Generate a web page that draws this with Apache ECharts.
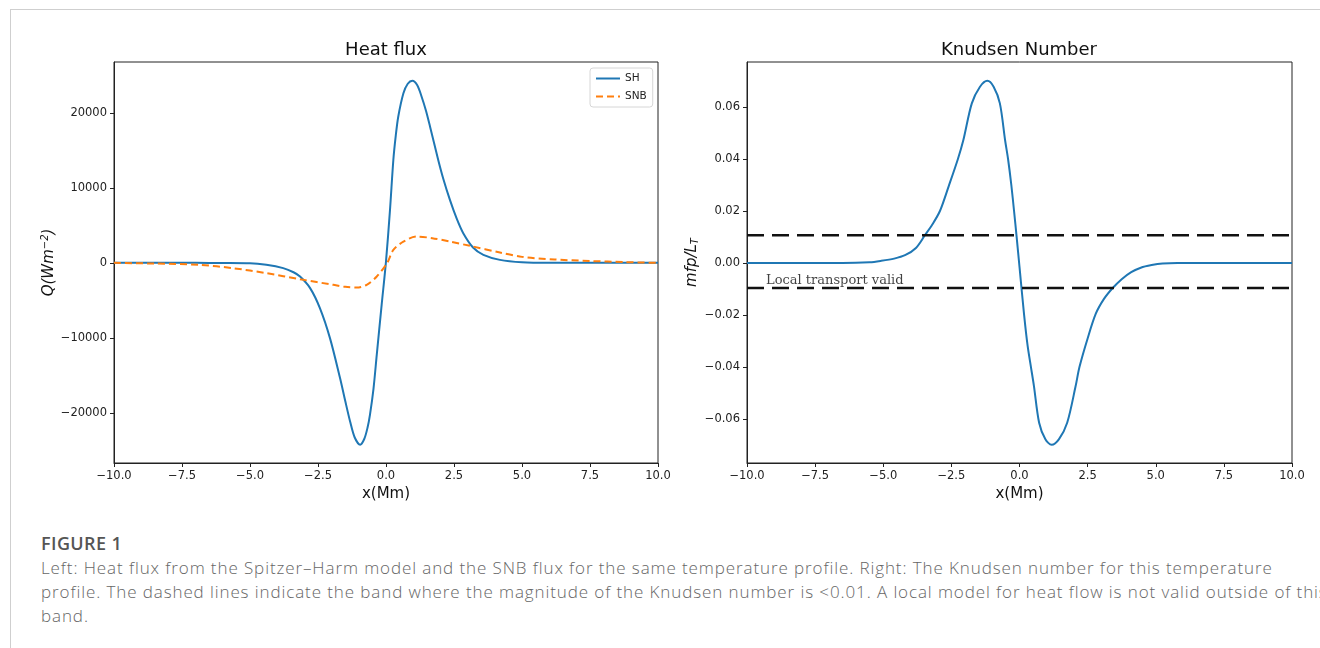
<!DOCTYPE html>
<html>
<head>
<meta charset="utf-8">
<script src="https://cdn.jsdelivr.net/npm/echarts@6/dist/echarts.min.js"></script>
<style>
  html, body { margin: 0; padding: 0; background: #fff; }
  body { width: 1320px; height: 648px; position: relative; overflow: hidden; }
  .frame {
    position: absolute; left: 10px; top: 9px; width: 1340px; height: 680px;
    border: 1px solid #cfcfcf; box-sizing: border-box;
  }
  #chart { position: absolute; left: 0; top: 0; width: 1320px; height: 520px; }
  .caption {
    position: absolute; left: 41px; top: 531px; white-space: nowrap;
    font-family: "Open Sans", Lato, sans-serif; font-size: 17px; font-weight: 300;
    letter-spacing: 0.9px; line-height: 24px; color: #666;
  }
  .caption b { font-weight: 600; font-size: 18px; letter-spacing: 0.4px; color: #555; }
</style>
</head>
<body>
<div class="frame"></div>
<div id="chart"></div>
<div class="caption">
  <b>FIGURE 1</b><br>
  Left: Heat flux from the Spitzer–Harm model and the SNB flux for the same temperature profile. Right: The Knudsen number for this temperature<br>
  profile. The dashed lines indicate the band where the magnitude of the Knudsen number is &lt;0.01. A local model for heat flow is not valid outside of this<br>
  band.
</div>
<script>
// heat flux, Spitzer-Harm (W m^-2)
const shX = [-10, -7, -6, -5, -4.4, -3.78, -3.4, -3.16, -2.79, -2.43, -2.06, -1.69, -1.5, -1.32, -1.15, -0.95, -0.8, -0.68, -0.59, -0.46, -0.34, -0.16, 0.0, 0.147, 0.27, 0.36, 0.45, 0.64, 0.8, 0.97, 1.15, 1.31, 1.47, 1.62, 1.92, 2.1, 2.35, 2.6, 2.84, 3.2, 3.58, 4.19, 5.0, 6.0, 10];
const shQ = [0, 0, -10, -40, -250, -700, -1250, -1830, -3370, -6040, -10040, -15370, -18400, -21160, -23300, -24250, -23500, -22000, -20270, -16800, -12270, -5600, 200, 7070, 13730, 17000, 19500, 22630, 23900, 24300, 23700, 22170, 20300, 18170, 13730, 11300, 8400, 5900, 3960, 2050, 1070, 400, 80, 5, 0];
// heat flux, SNB
const snbX = [-10, -8.5, -6.84, -5.62, -4.39, -3.16, -1.94, -1.5, -1.08, -0.71, -0.34, 0.04, 0.27, 0.64, 1.13, 1.7, 2.35, 3.09, 4.19, 5.0, 6.2, 7.5, 8.8, 10];
const snbQ = [0, -90, -270, -710, -1380, -2180, -2930, -3200, -3290, -2930, -1820, -40, 1730, 2840, 3510, 3300, 2840, 2270, 1380, 800, 450, 250, 100, 0];
// Knudsen number mfp/L_T
const knX = [-10, -6.5, -5.5, -5.1, -4.6, -4.2, -3.8, -3.47, -3.2, -2.92, -2.6, -2.26, -2.06, -1.75, -1.45, -1.18, -0.95, -0.72, -0.53, -0.42, -0.3, -0.2, -0.1, 0, 0.17, 0.3, 0.42, 0.53, 0.72, 0.95, 1.18, 1.45, 1.75, 2.06, 2.2, 2.5, 2.8, 3.1, 3.42, 3.75, 4.1, 4.45, 4.85, 5.25, 5.8, 10];
const knY = [0, 0, 0.0003, 0.0008, 0.0017, 0.003, 0.0058, 0.0107, 0.0148, 0.02, 0.0295, 0.04, 0.0473, 0.0614, 0.0678, 0.0701, 0.0678, 0.0614, 0.0473, 0.04, 0.03, 0.02, 0.0095, -0.0015, -0.02, -0.032, -0.04, -0.0473, -0.0614, -0.0678, -0.0699, -0.0677, -0.0614, -0.0473, -0.04, -0.029, -0.0195, -0.0138, -0.0096, -0.0062, -0.0035, -0.0018, -0.0008, -0.0002, 0, 0];
// validity band
const bandX = [-10, 10];
const bandUpper = [0.0107, 0.0107];
const bandLower = [-0.0096, -0.0096];
const noteAt = [-9.3, -0.0068];
const noteText = "Local transport valid";

const xTicks = [-10, -7.5, -5, -2.5, 0, 2.5, 5, 7.5, 10];
const qTicks = [-20000, -10000, 0, 10000, 20000];
const knTicks = [-0.06, -0.04, -0.02, 0, 0.02, 0.04, 0.06];

const zip = (a, b) => a.map((v, i) => [v, b[i]]);
const minus = s => s.replace("-", "\u2212");

const font = "DejaVu Sans";
const axisColor = "#222";

function xAxisOpt(grid) {
  return {
    type: "value", gridIndex: grid, min: -10, max: 10,
    name: "x(Mm)", nameLocation: "middle", nameGap: 24,
    nameTextStyle: { fontFamily: font, fontSize: 15, color: "#111" },
    axisLine: { show: true, onZero: false, lineStyle: { color: axisColor, width: 1 } },
    axisTick: { show: true, length: 4, lineStyle: { color: axisColor }, customValues: xTicks },
    axisLabel: { fontFamily: font, fontSize: 11.5, color: "#222", margin: 7,
      customValues: xTicks, formatter: v => minus(v.toFixed(1)) },
    splitLine: { show: false }
  };
}

const lineSeries = { type: "line", symbol: "none", showSymbol: false, smooth: 0.3 };

const chart = echarts.init(document.getElementById("chart"));
chart.setOption({
  animation: false,
  backgroundColor: "transparent",
  graphic: [
    { type: "text", x: 386, y: 50, style: { text: "Heat flux", font: "18px DejaVu Sans", fill: "#111", textAlign: "center", textVerticalAlign: "middle" } },
    { type: "text", x: 1019, y: 50, style: { text: "Knudsen Number", font: "18px DejaVu Sans", fill: "#111", textAlign: "center", textVerticalAlign: "middle" } }
  ],
  legend: {
    orient: "vertical", left: 590, top: 68,
    padding: [5, 6, 5, 5], itemGap: 7, itemWidth: 24, itemHeight: 10,
    borderColor: "#d6d6d6", borderWidth: 1, borderRadius: 3,
    itemStyle: { opacity: 0 },
    textStyle: { fontFamily: font, fontSize: 10.5, color: "#222" },
    data: ["SH", "SNB"]
  },
  grid: [
    { left: 114, top: 62, width: 544, height: 401, show: true, borderColor: axisColor, borderWidth: 1 },
    { left: 747, top: 62, width: 545, height: 401, show: true, borderColor: axisColor, borderWidth: 1 }
  ],
  xAxis: [xAxisOpt(0), xAxisOpt(1)],
  yAxis: [
    {
      type: "value", gridIndex: 0, min: -26700, max: 26800,
      name: "{a|Q(Wm}{s|\u22122}{a|)}", nameLocation: "middle", nameGap: 54, nameRotate: 90,
      nameTextStyle: { rich: {
        a: { fontFamily: font, fontStyle: "italic", fontSize: 15, color: "#111" },
        s: { fontFamily: font, fontStyle: "italic", fontSize: 10, color: "#111", verticalAlign: "top", padding: [0, 0, 8, 0] }
      } },
      axisLine: { show: true, onZero: false, lineStyle: { color: axisColor } },
      axisTick: { show: true, length: 4, lineStyle: { color: axisColor }, customValues: qTicks },
      axisLabel: { fontFamily: font, fontSize: 11.5, color: "#222", margin: 7,
        customValues: qTicks, formatter: v => minus(String(v)) },
      splitLine: { show: false }
    },
    {
      type: "value", gridIndex: 1, min: -0.0769, max: 0.0773,
      name: "{a|mfp/L}{s|T}", nameLocation: "middle", nameGap: 47, nameRotate: 90,
      nameTextStyle: { rich: {
        a: { fontFamily: font, fontStyle: "italic", fontSize: 15, color: "#111" },
        s: { fontFamily: font, fontStyle: "italic", fontSize: 10, color: "#111", verticalAlign: "bottom", padding: [6, 0, 0, 0] }
      } },
      axisLine: { show: true, onZero: false, lineStyle: { color: axisColor } },
      axisTick: { show: true, length: 4, lineStyle: { color: axisColor }, customValues: knTicks },
      axisLabel: { fontFamily: font, fontSize: 11.5, color: "#222", margin: 7,
        customValues: knTicks, formatter: v => minus(v.toFixed(2)) },
      splitLine: { show: false }
    }
  ],
  series: [
    Object.assign({}, lineSeries, {
      name: "SH", xAxisIndex: 0, yAxisIndex: 0, data: zip(shX, shQ),
      lineStyle: { color: "#1f77b4", width: 2 }, itemStyle: { color: "#1f77b4" }
    }),
    Object.assign({}, lineSeries, {
      name: "SNB", xAxisIndex: 0, yAxisIndex: 0, data: zip(snbX, snbQ),
      lineStyle: { color: "#ff7f0e", width: 2, type: [7, 4] }, itemStyle: { color: "#ff7f0e" }
    }),
    Object.assign({}, lineSeries, {
      name: "Kn", xAxisIndex: 1, yAxisIndex: 1, data: zip(knX, knY),
      lineStyle: { color: "#1f77b4", width: 2 }
    }),
    {
      name: "upper", type: "line", xAxisIndex: 1, yAxisIndex: 1,
      data: zip(bandX, bandUpper), symbol: "none",
      lineStyle: { color: "#111", width: 2.6, type: [17, 8] }
    },
    {
      name: "lower", type: "line", xAxisIndex: 1, yAxisIndex: 1,
      data: zip(bandX, bandLower), symbol: "none",
      lineStyle: { color: "#111", width: 2.6, type: [17, 8] }
    },
    {
      name: "note", type: "scatter", xAxisIndex: 1, yAxisIndex: 1,
      data: [noteAt], symbolSize: 0,
      label: { show: true, position: "right", distance: 0, formatter: noteText,
        fontFamily: "DejaVu Serif", fontSize: 13, color: "#111" }
    }
  ]
});
</script>
</body>
</html>
